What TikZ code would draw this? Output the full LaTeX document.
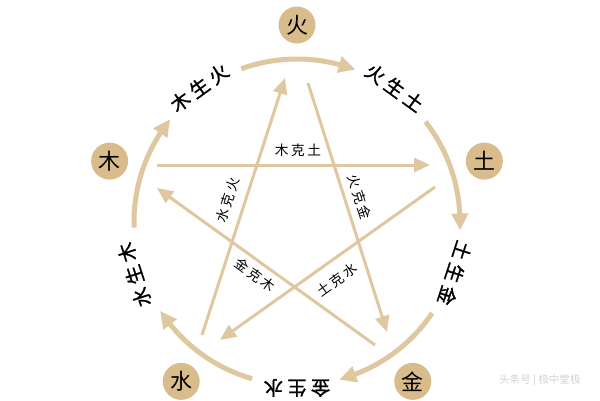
\documentclass[tikz,border=0pt]{standalone}
\usepackage{fontspec}
\newfontfamily\cjk{Noto Sans CJK SC}
\newfontfamily\cjkwide[LetterSpace=22, FakeBold=1.2]{Noto Sans CJK SC}
\newfontfamily\cjkspaced[LetterSpace=18]{Noto Sans CJK SC}
\usetikzlibrary{arrows.meta, bending}
\definecolor{tan}{HTML}{D9BC8C}
\definecolor{lighttan}{HTML}{DFC79F}

\begin{document}
\begin{tikzpicture}[
		x=0.02cm, y=0.02cm,
		element/.style={circle, fill=tan, minimum size=0.74cm, inner sep=0pt,
			font=\cjk\fontsize{12.5}{12.5}\selectfont},
		sheng/.style={lighttan, line width=0.1cm,
			-{Triangle[length=0.34cm, width=0.32cm, bend]}},
		ke/.style={lighttan, line width=0.06cm,
			-{Triangle[length=0.32cm, width=0.28cm]}},
		shenglabel/.style={font=\cjkwide\fontsize{11}{11}\selectfont},
		kelabel/.style={font=\cjkspaced\fontsize{7.8}{7.8}\selectfont}
		]
		
		\useasboundingbox (0,0) rectangle (600,400);
		\coordinate (O) at (297,178);
		
		\begin{scope}[shift={(O)}]
			% elements
			\node[element] (huo) at (90:197) {火};
			\node[element] (tu) at (18:197) {土};
			\node[element] (jin) at (-54:197) {金};
			\node[element] (shui) at (-126:197) {水};
			\node[element] (mu) at (162:197) {木};
			
			% generating cycle
			\coordinate (mu-start) at (182:163);
			\coordinate (huo-start) at (110:163);
			\coordinate (tu-start) at (38:163);
			\coordinate (jin-start) at (-34:163);
			\coordinate (shui-start) at (-106:163);
			\draw[sheng] (mu-start) arc[start angle=182, end angle=141, radius=163];
			\draw[sheng] (huo-start) arc[start angle=110, end angle=69, radius=163];
			\draw[sheng] (tu-start) arc[start angle=38, end angle=-3, radius=163];
			\draw[sheng] (jin-start) arc[start angle=-34, end angle=-75, radius=163];
			\draw[sheng] (shui-start) arc[start angle=-106, end angle=-147, radius=163];
			
			\node[shenglabel, rotate=36] (mu-huo) at (126:166) {木生火};
			\node[shenglabel, rotate=-36] (huo-tu) at (54:166) {火生土};
			\node[shenglabel, rotate=-108] (tu-jin) at (-18:166) {土生金};
			\node[shenglabel, rotate=180] (jin-shui) at (-90:166) {金生水};
			\node[shenglabel, rotate=108] (shui-mu) at (-162:171) {水生木};
			
			% overcoming star
			\coordinate (k1a) at (-140,57);
			\coordinate (k1b) at (133,57);
			\coordinate (k2a) at (138,35);
			\coordinate (k2b) at (-77,-118);
			\coordinate (k3a) at (-95,-113);
			\coordinate (k3b) at (-12,144);
			\coordinate (k4a) at (11,139);
			\coordinate (k4b) at (90,-110);
			\coordinate (k5a) at (78,-123);
			\coordinate (k5b) at (-140,34);
			\draw[ke] (k1a) -- (k1b);
			\draw[ke] (k2a) -- (k2b);
			\draw[ke] (k3a) -- (k3b);
			\draw[ke] (k4a) -- (k4b);
			\draw[ke] (k5a) -- (k5b);
			
			\node[kelabel] (mu-tu) at (1,72) {木克土};
			\node[kelabel, rotate=72] (shui-huo) at (-69,22) {水克火};
			\node[kelabel, rotate=-72] (huo-jin) at (63,25) {火克金};
			\node[kelabel, rotate=-36] (jin-mu) at (-42,-53) {金克木};
			\node[kelabel, rotate=36] (tu-shui) at (40,-58) {土克水};
			
			\node[anchor=west, gray!35, font=\cjk\fontsize{6}{6}\selectfont] (mark) at (196,-159) {头条号 | 极中堂极};
		\end{scope}
		
	\end{tikzpicture}
\end{document}
